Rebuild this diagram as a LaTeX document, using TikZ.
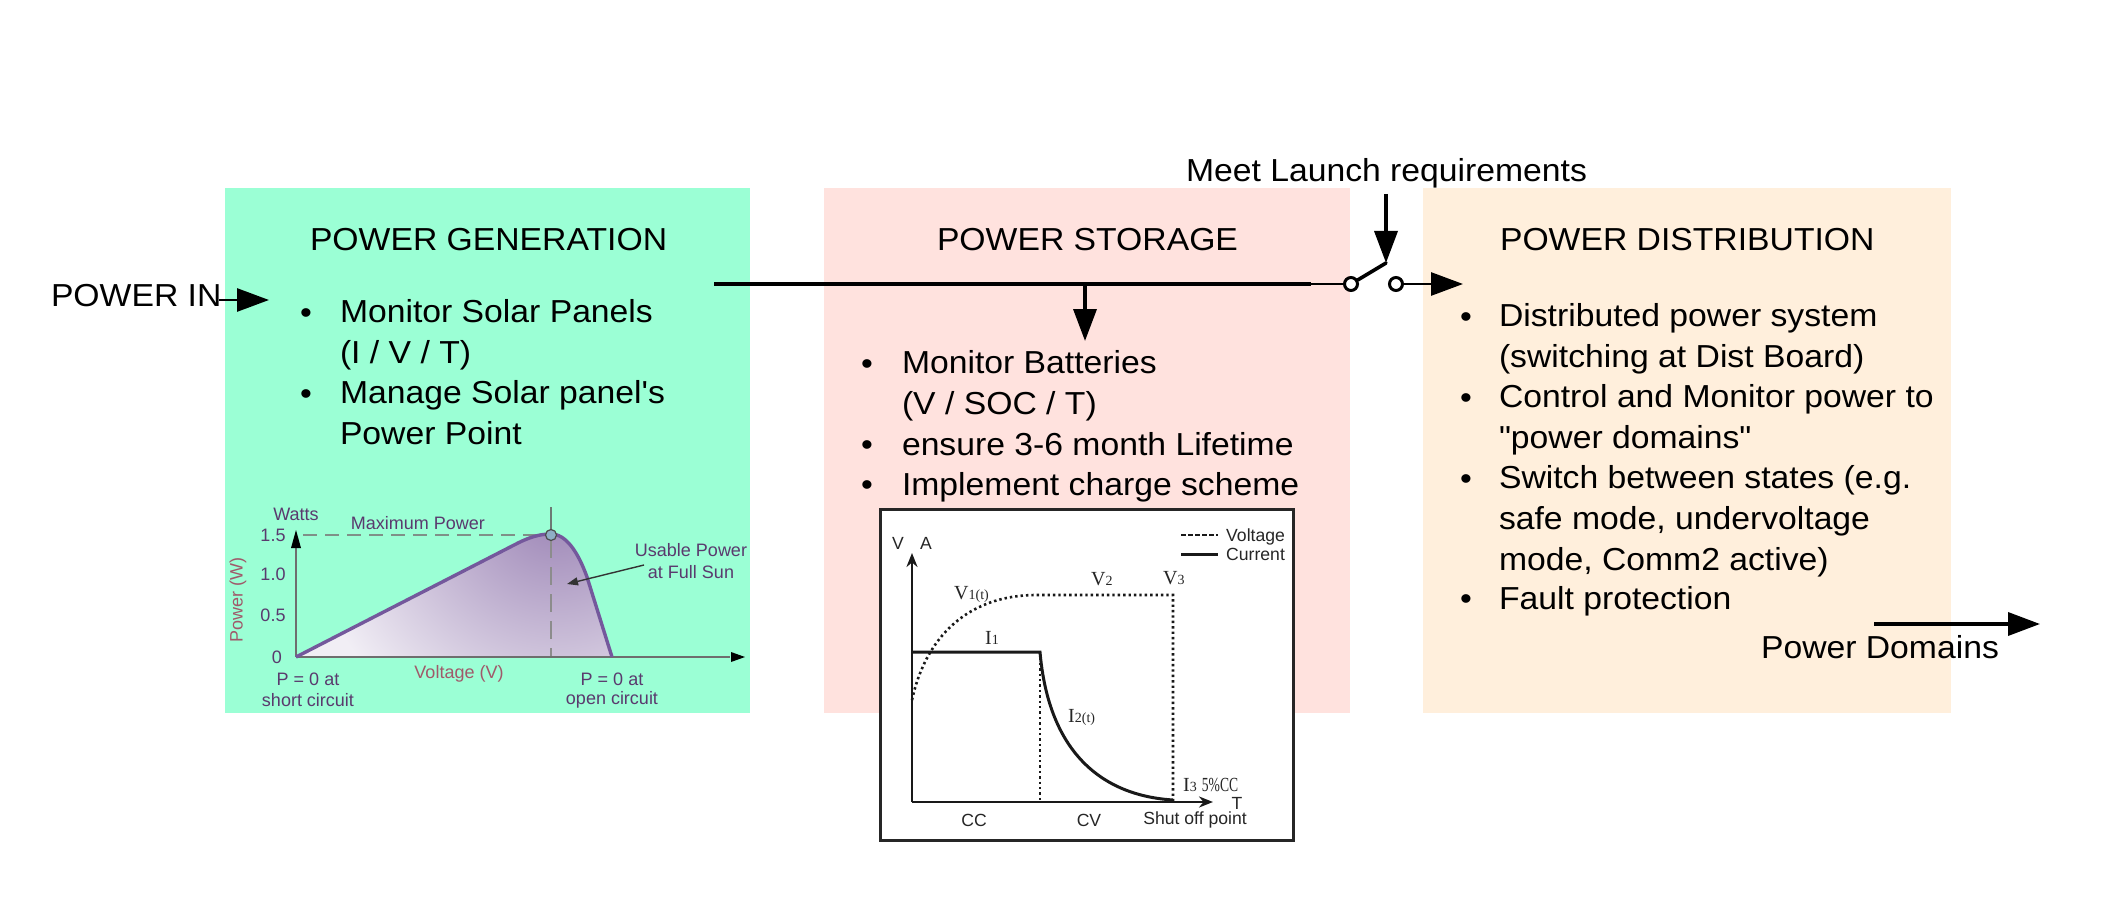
\documentclass[tikz,border=0pt]{standalone}
\usepackage{fontspec}
\setmainfont{Liberation Sans}
\newfontfamily\serifl{Liberation Serif}
\newfontfamily\bigf[FakeStretch=1.06,Ligatures=TeXOff]{Liberation Sans}
\usetikzlibrary{arrows.meta,shapes.geometric}
\definecolor{genbg}{HTML}{9BFFD5}
\definecolor{stobg}{HTML}{FFE2DE}
\definecolor{disbg}{HTML}{FFEFDC}
\definecolor{chartink}{HTML}{5A3A6E}
\definecolor{chartred}{HTML}{A0596A}
\definecolor{curveink}{HTML}{74589C}
\definecolor{axisgrey}{HTML}{6E6E6E}
\definecolor{dashgrey}{HTML}{7F9088}
\definecolor{shadeA}{HTML}{9A82B4}
\definecolor{shadeB}{HTML}{F1EEF5}
\definecolor{dotfill}{HTML}{8FAEC6}
\newcommand{\sm}[1]{{\fontsize{14}{14}\selectfont #1}}
\tikzset{
 x=1pt,y=-1pt,
 panel/.style={fill=#1,draw=none},
 big/.style={font=\bigf\fontsize{31.8}{40.7}\selectfont,inner sep=0,outer sep=0,text=black},
 blk/.style={big,align=left,anchor=north west},
 one/.style={big,anchor=base west},
 bul/.style={big,anchor=base},
 thickline/.style={line width=3.6pt,draw=black},
 thinline/.style={line width=2.8pt,draw=black},
 head/.style={-{Triangle[length=32pt,width=23pt]}},
 swpin/.style={circle,draw=black,fill=white,line width=3pt,minimum size=13pt,inner sep=0},
 sol/.style={font=\fontsize{18}{20}\selectfont,inner sep=0,text=chartink},
 solr/.style={font=\fontsize{18}{20}\selectfont,inner sep=0,text=chartred},
 chg/.style={font=\fontsize{17.6}{20}\selectfont,inner sep=0,text=black!85},
 chs/.style={font=\serifl\fontsize{20}{20}\selectfont,inner sep=0,anchor=base west,text=black!85},
 dots/.style={line width=2.6pt,dash pattern=on 2.4pt off 3pt,draw=black!90},
 solid curve/.style={line width=3pt,draw=black!90},
}
\begin{document}
\begin{tikzpicture}
\useasboundingbox (0,0) rectangle (2108,917);
\fill[white] (0,0) rectangle (2108,917);
% panels
\node[panel=genbg,minimum width=525pt,minimum height=525pt,anchor=north west,inner sep=0] (gen) at (225,188) {};
\node[panel=stobg,minimum width=526pt,minimum height=525pt,anchor=north west,inner sep=0] (sto) at (824,188) {};
\node[panel=disbg,minimum width=528pt,minimum height=525pt,anchor=north west,inner sep=0] (dis) at (1423,188) {};
% generation text
\node[one] (gent) at (310,251) {POWER GENERATION};
\node[one] (pin) at (51,306) {POWER IN};
\node[bul] (b1) at (306,323) {•};
\node[blk] (g1) at (340,294.5) {\strut Monitor Solar Panels\\(I / V / T)};
\node[bul] (b2) at (306,404) {•};
\node[blk] (g2) at (340,375.5) {\strut Manage Solar panel's\\Power Point};
% storage text
\node[one] (stot) at (937,251) {POWER STORAGE};
\node[bul] (b3) at (867,374) {•};
\node[blk] (s1) at (902,345.5) {\strut Monitor Batteries\\(V / SOC / T)};
\node[bul] (b4) at (867,455) {•};
\node[one] (s2) at (902,455) {ensure 3-6 month Lifetime};
\node[bul] (b5) at (867,495) {•};
\node[one] (s3) at (902,495) {Implement charge scheme};
% distribution text
\node[one] (dist) at (1500,251) {POWER DISTRIBUTION};
\node[bul] (b6) at (1466,327) {•};
\node[blk] (d1) at (1499,298.5) {\strut Distributed power system\\(switching at Dist Board)};
\node[bul] (b7) at (1466,408) {•};
\node[blk] (d2) at (1499,379.5) {\strut Control and Monitor power to\\"power domains"};
\node[bul] (b8) at (1466,489) {•};
\node[blk] (d3) at (1499,460.5) {\strut Switch between states (e.g.\\safe mode, undervoltage\\mode, Comm2 active)};
\node[bul] (b9) at (1466,609) {•};
\node[one] (d4) at (1499,609) {Fault protection};
\node[one] (pdom) at (1761,658) {Power Domains};
\node[one] (meet) at (1186,182) {Meet Launch requirements};
% connectors
\coordinate (inA) at (219,300); \coordinate (inB) at (269,300);
\draw[thinline,head] (inA) -- (inB);
\coordinate (busA) at (714,284); \coordinate (busB) at (1311,284); \coordinate (busT) at (1085,284); \coordinate (busD) at (1085,341);
\node[swpin] (p1) at (1351,284) {};
\node[swpin] (p2) at (1396,284) {};
\coordinate (arm) at (1386,263); \coordinate (ctl) at (1386,194);
\coordinate (outB) at (1463,284);
\coordinate (pdA) at (1874,624); \coordinate (pdB) at (2040,624);
\draw[thickline] (busA) -- (busB);
\draw[thinline] (busB) -- (p1);
\draw[thickline,head] (busT) -- (busD);
\draw[thickline,line cap=round] (p1) -- (arm);
\draw[thickline,head] (ctl) -- (arm);
\draw[thinline,head] (p2) -- (outB);
\draw[thickline,head] (pdA) -- (pdB);
% solar chart
\begin{scope}
\clip (296,657) -- (518,543) .. controls (534,535) and (544,534) .. (551,534) .. controls (566,534) and (578,552) .. (587,577) -- (612,657) -- cycle;
\fill[shadeB] (290,525) rectangle (620,660);
\shade[inner color=shadeA,outer color=shadeB] (556,505) circle (250);
\end{scope}
\draw[dashgrey,line width=1.6pt,dash pattern=on 14pt off 8pt] (303,535) -- (547,535);
\draw[dashgrey!85!black,line width=1.4pt] (551,507) -- (551,530);
\draw[black!45,line width=1.6pt,dash pattern=on 18pt off 9pt] (551,540) -- (551,657);
\coordinate (o) at (296,657);
\draw[axisgrey,line width=1.8pt] (o) -- (296,545);
\draw[axisgrey,line width=1.8pt] (o) -- (730,657);
\fill[black] (296,530) -- (291,548) -- (301,548) -- cycle;
\fill[black] (745,657) -- (731,652) -- (731,662) -- cycle;
\draw[curveink,line width=3.4pt,line join=round] (296,657) -- (518,543) .. controls (534,535) and (544,534) .. (551,534) .. controls (566,534) and (578,552) .. (587,577) -- (612,657);
\node[circle,draw=black!70,fill=dotfill,line width=1.2pt,minimum size=11pt,inner sep=0] (peak) at (551,535) {};
\node[sol] (w) at (296,514) {Watts};
\node[sol] (mp) at (418,523) {Maximum Power};
\node[sol] (t15) at (273,535) {1.5};
\node[sol] (t10) at (273,574) {1.0};
\node[sol] (t05) at (273,615) {0.5};
\node[sol] (t0) at (277,657) {0};
\node[solr,rotate=90] (pw) at (238,600) {Power (W)};
\node[solr] (vv) at (459,674) {Voltage (V)};
\node[sol] (pz) at (308,679) {P = 0 at};
\node[sol] (sc) at (308,700) {short circuit};
\node[sol] (pz2) at (612,679) {P = 0 at};
\node[sol] (oc) at (612,700) {open circuit};
\node[sol] (u1) at (691,550) {Usable Power};
\node[sol] (u2) at (691,572) {at Full Sun};
\coordinate (usA) at (644,565); \coordinate (usB) at (567,584);
\draw[black!80,line width=1.4pt,-{Triangle[length=11pt,width=8pt]}] (usA) -- (usB);
% charge chart
\node[draw=black!85,fill=white,line width=2.6pt,minimum width=413pt,minimum height=331pt,anchor=north west,inner sep=0] (frame) at (879,508) {};
\coordinate (co) at (912,802); \coordinate (cy) at (912,553); \coordinate (cx) at (1213,802);
\draw[line width=2.8pt,black!90,-{Stealth[length=14pt,width=11pt]}] (co) -- (cy);
\draw[line width=2.8pt,black!90,-{Stealth[length=14pt,width=11pt]}] (co) -- (cx);
\draw[solid curve] (912,652) -- (1040,652) .. controls (1048,745) and (1095,795) .. (1173,800);
\draw[dots] (1040,652) -- (1040,802);
\draw[dots] (912,700) .. controls (925,640) and (965,595) .. (1037,595) -- (1173,595) -- (1173,802);
\draw[line width=2.6pt,black!90,dash pattern=on 5pt off 2pt] (1181,535) -- (1218,535);
\draw[solid curve] (1181,554) -- (1218,554);
\node[chg,anchor=base west] (lv) at (1226,541) {Voltage};
\node[chg,anchor=base west] (lc) at (1226,560) {Current};
\node[chg] (va) at (898,543) {V};
\node[chg] (aa) at (926,543) {A};
\node[chs] (v1) at (954,599) {V\sm{1(t)}};
\node[chs] (v2) at (1091,585) {V\sm{2}};
\node[chs] (v3) at (1163,584) {V\sm{3}};
\node[chs] (i1) at (985,644) {I\sm{1}};
\node[chs] (i2) at (1068,722) {I\sm{2(t)}};
\node[chs] (i3) at (1183,791) {I\sm{3} \scalebox{0.68}[1]{5\%CC}};
\node[chg] (tt) at (1237,803) {T};
\node[chg] (cc) at (974,820) {CC};
\node[chg] (cv) at (1089,820) {CV};
\node[chg] (so) at (1195,820) {Shut off point};
\end{tikzpicture}
\end{document}
